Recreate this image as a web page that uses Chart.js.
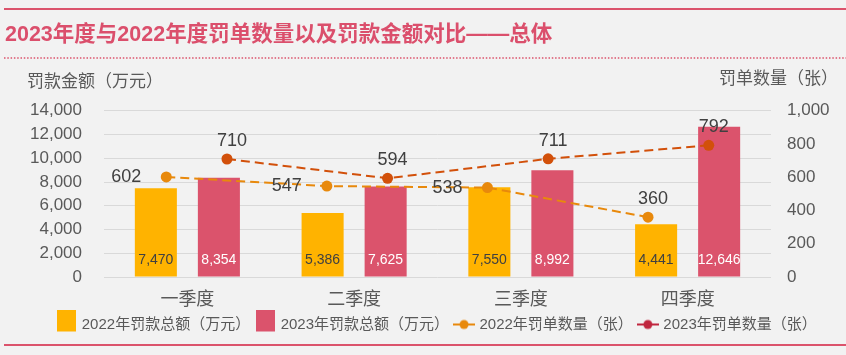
<!DOCTYPE html>
<html><head><meta charset="utf-8">
<script src="https://cdn.jsdelivr.net/npm/chart.js@4.4.1/dist/chart.umd.min.js"></script>
<style>html,body{margin:0;padding:0;background:#F2F2F2;} canvas{display:block}</style>
</head><body>
<canvas id="c" width="846" height="355"></canvas>
<script>
// ---- data ----
const categories = ['一季度', '二季度', '三季度', '四季度'];
const fines2022 = [7470, 5386, 7550, 4441];
const fines2023 = [8354, 7625, 8992, 12646];
const tickets2022 = [602, 547, 538, 360];
const tickets2023 = [710, 594, 711, 792];
const seriesNames = ['2022年罚款总额（万元）', '2023年罚款总额（万元）', '2022年罚单数量（张）', '2023年罚单数量（张）'];
const chartTitle = '2023年度与2022年度罚单数量以及罚款金额对比——总体';
const leftAxisTitle = '罚款金额（万元）';
const rightAxisTitle = '罚单数量（张）';
const leftTicks = {min: 0, max: 14000, step: 2000};
const rightTicks = {min: 0, max: 1000, step: 200};
const tickets2022LabelSide = ['left', 'left', 'left', 'top'];
const tickets2023LabelSide = ['top', 'top', 'top', 'top'];

// ---- styles ----
const FONT = "'Liberation Sans','Noto Sans CJK SC',sans-serif";
const YELLOW = '#FFB300', PINK = '#DB536C', ORANGE = '#E8890C', RED = '#D2500A', LEGEND_RED = '#C0263E';
const TEXT = '#595959', DARK = '#404040', GRID = '#D9D9D9', TITLE = '#DB4F6C';

Chart.defaults.font.family = FONT;
Chart.defaults.color = TEXT;

function barMarker(color) {
  const c = document.createElement('canvas'); c.width = 19; c.height = 46;
  const g = c.getContext('2d'); g.fillStyle = color; g.fillRect(0, 0, 19, 30); return c;
}
function lineMarker(color) {
  const c = document.createElement('canvas'); c.width = 22; c.height = 12;
  const g = c.getContext('2d'); g.strokeStyle = color; g.lineWidth = 2;
  g.beginPath(); g.moveTo(0, 6); g.lineTo(22, 6); g.stroke();
  g.fillStyle = color; g.beginPath(); g.arc(11, 6, 4.5, 0, Math.PI * 2); g.fill(); return c;
}
const legendMarkers = [barMarker(YELLOW), barMarker(PINK), lineMarker(ORANGE), lineMarker(LEGEND_RED)];

const decor = {
  id: 'decor',
  afterLayout(chart) {
    if (chart.legend) { chart.legend.left += 12; chart.legend.right += 12; }
  },
  beforeDraw(chart) {
    const ctx = chart.ctx, W = chart.width;
    ctx.save();
    ctx.fillStyle = '#F2F2F2'; ctx.fillRect(0, 0, W, chart.height);
    ctx.strokeStyle = PINK; ctx.lineWidth = 2;
    ctx.beginPath(); ctx.moveTo(4, 9); ctx.lineTo(W, 9); ctx.stroke();
    ctx.beginPath(); ctx.moveTo(4, 345); ctx.lineTo(W, 345); ctx.stroke();
    ctx.lineWidth = 1.5; ctx.setLineDash([1.5, 1.8]);
    ctx.beginPath(); ctx.moveTo(4, 58); ctx.lineTo(W, 58); ctx.stroke();
    ctx.restore();
  },
  afterDraw(chart) {
    const ctx = chart.ctx, ca = chart.chartArea;
    ctx.save();
    ctx.font = '17px ' + FONT; ctx.fillStyle = TEXT; ctx.textBaseline = 'middle';
    ctx.textAlign = 'left'; ctx.fillText(leftAxisTitle, 27, ca.top - 28);
    ctx.textAlign = 'right'; ctx.fillText(rightAxisTitle, 838, ca.top - 31);
    ctx.restore();
  }
};

// place line points over their bars (slightly drawn toward plot centre, as in the original)
const alignLines = {
  id: 'alignLines',
  afterDatasetsUpdate(chart) {
    const ca = chart.chartArea, cx = (ca.left + ca.right) / 2;
    [[2, 0], [3, 1]].forEach(([li, bi]) => {
      const lm = chart.getDatasetMeta(li), bm = chart.getDatasetMeta(bi);
      lm.data.forEach((pt, i) => { pt.x = cx + (bm.data[i].x - cx) * 0.963; });
      if (lm.dataset) { delete lm.dataset._path; }
    });
  }
};

const valueLabels = {
  id: 'valueLabels',
  afterDatasetsDraw(chart) {
    const ctx = chart.ctx, y0 = chart.scales.y.getPixelForValue(0);
    ctx.save();
    ctx.font = '14px ' + FONT; ctx.textAlign = 'center'; ctx.textBaseline = 'middle';
    [[0, DARK], [1, '#FFFFFF']].forEach(([di, col]) => {
      const ds = chart.data.datasets[di];
      chart.getDatasetMeta(di).data.forEach((b, i) => {
        ctx.fillStyle = col; ctx.fillText(ds.data[i].toLocaleString('en-US'), b.x, y0 - 17);
      });
    });
    ctx.font = '18px ' + FONT; ctx.fillStyle = DARK;
    [[2, tickets2022LabelSide], [3, tickets2023LabelSide]].forEach(([di, sides]) => {
      const ds = chart.data.datasets[di];
      chart.getDatasetMeta(di).data.forEach((p, i) => {
        const t = ds.data[i].toLocaleString('en-US');
        if (sides[i] === 'left') { ctx.textAlign = 'right'; ctx.fillText(t, p.x - 25, p.y); }
        else { ctx.textAlign = 'center'; ctx.fillText(t, p.x + 5, p.y - 18); }
      });
    });
    ctx.restore();
  }
};

new Chart(document.getElementById('c'), {
  data: {
    labels: categories,
    datasets: [
      {type: 'bar', label: seriesNames[0], data: fines2022, backgroundColor: YELLOW, yAxisID: 'y', order: 2,
       categoryPercentage: 0.756, barPercentage: 0.667},
      {type: 'bar', label: seriesNames[1], data: fines2023, backgroundColor: PINK, yAxisID: 'y', order: 2,
       categoryPercentage: 0.756, barPercentage: 0.667},
      {type: 'line', label: seriesNames[2], data: tickets2022, yAxisID: 'y1', order: 0,
       borderColor: ORANGE, borderWidth: 2, borderDash: [9, 5], tension: 0, fill: false,
       pointRadius: 5.5, pointBackgroundColor: ORANGE, pointBorderWidth: 0},
      {type: 'line', label: seriesNames[3], data: tickets2023, yAxisID: 'y1', order: 1,
       borderColor: RED, borderWidth: 2, borderDash: [9, 5], tension: 0, fill: false,
       pointRadius: 5.5, pointBackgroundColor: RED, pointBorderWidth: 0}
    ]
  },
  options: {
    responsive: false, animation: false, events: [], locale: 'en-US',
    layout: {padding: {left: 5, right: 0, top: 22, bottom: 13}},
    plugins: {
      title: {display: true, text: chartTitle, align: 'start', color: TITLE,
              font: {size: 21.5, weight: 'bold', family: FONT, lineHeight: 1.2},
              padding: {top: 0, bottom: 63}},
      legend: {
        position: 'bottom',
        labels: {
          usePointStyle: true, pointStyleWidth: 16, padding: 7, color: TEXT,
          font: {size: 15, family: FONT},
          generateLabels: (chart) => chart.data.datasets.map((ds, i) => ({
            text: ds.label, pointStyle: legendMarkers[i], fontColor: TEXT,
            fillStyle: 'rgba(0,0,0,0)', strokeStyle: 'rgba(0,0,0,0)', lineWidth: 0, datasetIndex: i, hidden: false
          }))
        }
      },
      tooltip: {enabled: false}
    },
    scales: {
      x: {
        grid: {display: false, drawTicks: false}, border: {display: false},
        ticks: {padding: 12, color: TEXT, font: {size: 18}},
        afterFit(s) { s.height = 33; }
      },
      y: {
        position: 'left', min: leftTicks.min, max: leftTicks.max,
        ticks: {stepSize: leftTicks.step, padding: 22, color: TEXT, font: {size: 17}},
        grid: {color: GRID, lineWidth: 1, drawTicks: false}, border: {display: false},
        afterFit(s) { s.width = 99; }
      },
      y1: {
        position: 'right', min: rightTicks.min, max: rightTicks.max,
        ticks: {stepSize: rightTicks.step, padding: 16, color: TEXT, font: {size: 17}},
        grid: {display: false, drawTicks: false}, border: {display: false},
        afterFit(s) { s.width = 75; }
      }
    }
  },
  plugins: [decor, alignLines, valueLabels]
});
</script>
</body></html>
